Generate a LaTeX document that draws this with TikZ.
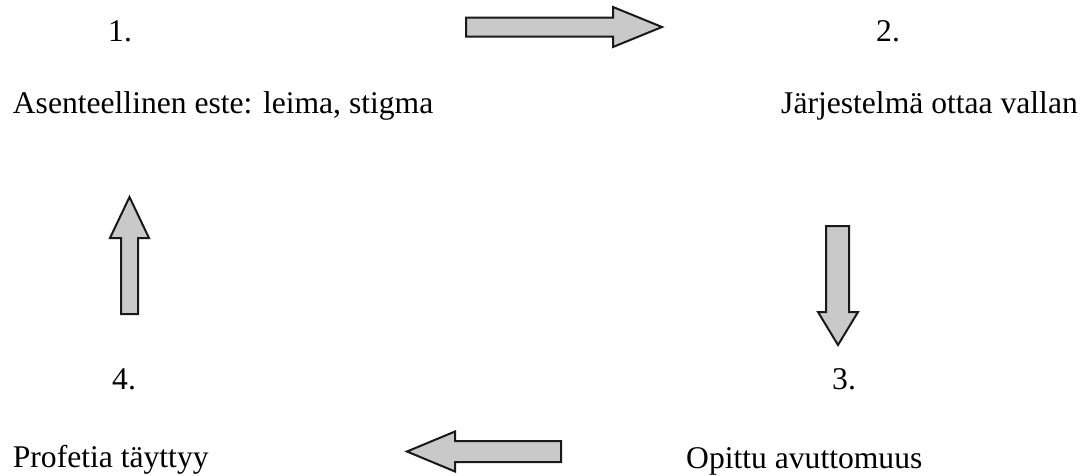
\documentclass[tikz,border=0pt]{standalone}
\usepackage{fontspec}
\setmainfont{Liberation Serif}
\tikzset{
  lbl/.style={anchor=base west, inner sep=0pt, font=\fontsize{31.6}{36}\selectfont},
  blockarrow/.style={draw=black!90, fill=black!21, line width=2pt, line join=miter}
}
\begin{document}
\begin{tikzpicture}[x=1pt,y=-1pt]
\useasboundingbox (0,0) rectangle (1086,475);
% labels
\node[lbl] (n1) at (108,41.7) {1.};
\node[lbl] (t1) at (12.7,113) {Asenteellinen este: leima, stigma};
\node[lbl] (n2) at (876,41.7) {2.};
\node[lbl] (t2) at (781,113) {Järjestelmä ottaa vallan};
\node[lbl] (n3) at (832,389) {3.};
\node[lbl] (t3) at (686,468) {Opittu avuttomuus};
\node[lbl] (n4) at (112,389) {4.};
\node[lbl] (t4) at (12.7,467) {Profetia täyttyy};
% block arrows
\draw[blockarrow] (466,17.5) -- (613,17.5) -- (613,7) -- (662,27) -- (613,47) -- (613,36.5) -- (466,36.5) -- cycle;
\draw[blockarrow] (826,226) -- (849,226) -- (849,312) -- (858,312) -- (838,345) -- (818,312) -- (826,312) -- cycle;
\draw[blockarrow] (561,441) -- (561,462) -- (455,462) -- (455,471.5) -- (407,451.5) -- (455,431.5) -- (455,441) -- cycle;
\draw[blockarrow] (121,314) -- (138,314) -- (138,238) -- (149,238) -- (129.5,197) -- (110,238) -- (121,238) -- cycle;
\end{tikzpicture}
\end{document}
